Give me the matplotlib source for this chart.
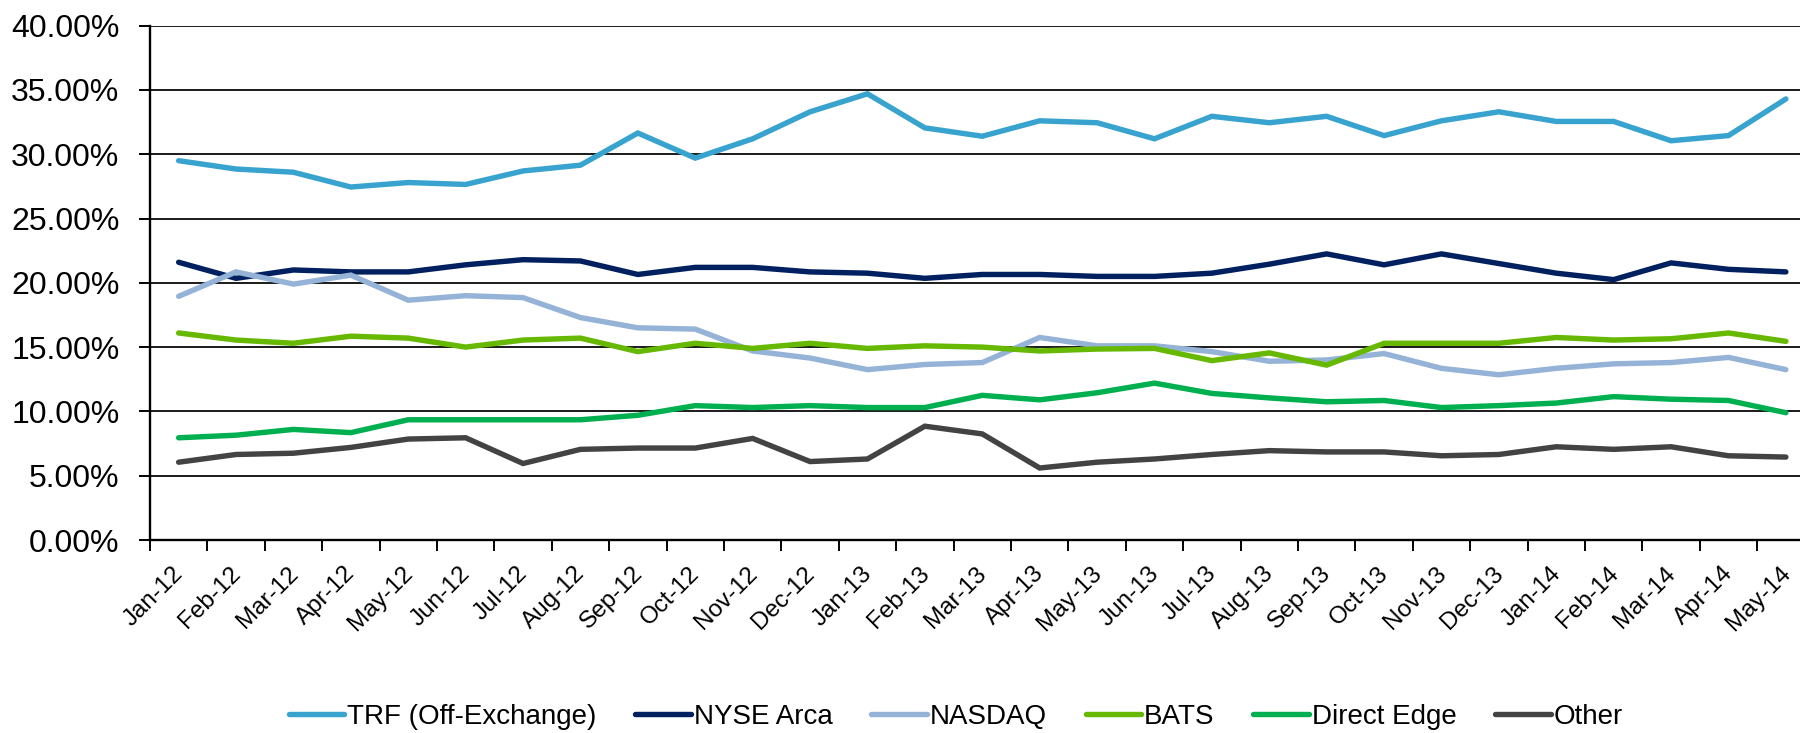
import matplotlib
matplotlib.use("Agg")
import matplotlib.pyplot as plt
from matplotlib.ticker import FuncFormatter, FixedLocator
from matplotlib.transforms import ScaledTranslation
import numpy as np

plt.rcParams['font.family'] = ['Liberation Sans', 'DejaVu Sans']

months = ['Jan-12', 'Feb-12', 'Mar-12', 'Apr-12', 'May-12', 'Jun-12', 'Jul-12',
          'Aug-12', 'Sep-12', 'Oct-12', 'Nov-12', 'Dec-12', 'Jan-13', 'Feb-13',
          'Mar-13', 'Apr-13', 'May-13', 'Jun-13', 'Jul-13', 'Aug-13', 'Sep-13',
          'Oct-13', 'Nov-13', 'Dec-13', 'Jan-14', 'Feb-14', 'Mar-14', 'Apr-14',
          'May-14']

trf = [29.5, 28.85, 28.6, 27.45, 27.8, 27.65, 28.7, 29.15, 31.65, 29.7, 31.2,
       33.3, 34.7, 32.05, 31.4, 32.6, 32.45, 31.2, 32.95, 32.45, 32.95, 31.45,
       32.6, 33.3, 32.55, 32.55, 31.05, 31.45, 34.3]
nyse_arca = [21.6, 20.35, 21.0, 20.85, 20.85, 21.4, 21.8, 21.7, 20.65, 21.2,
             21.2, 20.85, 20.75, 20.35, 20.65, 20.65, 20.5, 20.5, 20.75, 21.45,
             22.25, 21.4, 22.25, 21.5, 20.75, 20.25, 21.55, 21.05, 20.85]
nasdaq = [18.95, 20.85, 19.9, 20.6, 18.65, 19.0, 18.85, 17.3, 16.5, 16.4, 14.7,
          14.15, 13.25, 13.65, 13.8, 15.75, 15.1, 15.1, 14.65, 13.9, 14.0, 14.5,
          13.35, 12.85, 13.35, 13.7, 13.8, 14.2, 13.25]
bats = [16.1, 15.55, 15.3, 15.85, 15.7, 15.0, 15.55, 15.7, 14.65, 15.3, 14.9,
        15.3, 14.9, 15.1, 15.0, 14.7, 14.85, 14.9, 13.95, 14.55, 13.6, 15.3,
        15.3, 15.3, 15.75, 15.55, 15.65, 16.1, 15.45]
direct_edge = [7.95, 8.15, 8.6, 8.35, 9.35, 9.35, 9.35, 9.35, 9.7, 10.45, 10.3,
               10.45, 10.3, 10.3, 11.25, 10.9, 11.45, 12.2, 11.4, 11.05, 10.75,
               10.85, 10.3, 10.45, 10.65, 11.15, 10.95, 10.85, 9.9]
other = [6.05, 6.65, 6.75, 7.2, 7.85, 7.95, 5.95, 7.05, 7.15, 7.15, 7.9, 6.1,
         6.3, 8.85, 8.25, 5.6, 6.05, 6.3, 6.65, 6.95, 6.85, 6.85, 6.55, 6.65,
         7.25, 7.05, 7.25, 6.55, 6.45]

series = [
    ('TRF (Off-Exchange)', trf, '#38A3CF'),
    ('NYSE Arca', nyse_arca, '#002060'),
    ('NASDAQ', nasdaq, '#95B3D7'),
    ('BATS', bats, '#66B800'),
    ('Direct Edge', direct_edge, '#00B050'),
    ('Other', other, '#434343'),
]

fig = plt.figure(figsize=(18, 7.33), dpi=100)
ax = fig.add_axes([0.0833, 0.2633, 0.9248, 0.7017])

x = np.arange(len(months))
for name, vals, col in series:
    ax.plot(x, vals, color=col, lw=3.9, label=name, solid_capstyle='round',
            solid_joinstyle='miter', zorder=3)

ax.set_xlim(-0.5, len(months) - 0.5)
ax.set_ylim(0, 40)
ax.set_yticks(np.arange(0, 41, 5))
ax.yaxis.set_major_formatter(FuncFormatter(lambda v, p: f'{v:.2f}%'))
ax.yaxis.grid(True, color='#1a1a1a', lw=1.4)
ax.set_axisbelow(True)

ax.set_xticks(x)
ax.set_xticklabels(months, rotation=45, ha='right', rotation_mode='anchor',
                   fontsize=17.5)
ax.xaxis.set_minor_locator(FixedLocator(np.arange(-0.5, len(months), 1)))
ax.tick_params(axis='x', which='major', length=0, pad=14)
ax.tick_params(axis='x', which='minor', length=8, width=1.4, direction='out')
ax.tick_params(axis='y', length=8, width=1.4, labelsize=23, pad=14)

for s in ['top', 'right']:
    ax.spines[s].set_visible(False)
for s in ['left', 'bottom']:
    ax.spines[s].set_linewidth(1.7)
    ax.spines[s].set_color('black')

fig.legend(loc='center', bbox_to_anchor=(0.531, 0.022), ncol=6, frameon=False,
           fontsize=20, handlelength=2.0, handletextpad=0.1, columnspacing=1.4)

# line the rotated month labels up the way the original has them:
# label box ends ~9px right of the category centre, top ~23px under the axis
fig.canvas.draw()
rend = fig.canvas.get_renderer()
first = ax.get_xticklabels()[0]
bb = first.get_window_extent(rend)
cx, cy = ax.transData.transform((0, 0))
dx = (cx + 9) - bb.x1
dy = (cy - 22.5) - bb.y1
shift = ScaledTranslation(dx / fig.dpi, dy / fig.dpi, fig.dpi_scale_trans)
for lab in ax.get_xticklabels():
    lab.set_transform(lab.get_transform() + shift)

fig.savefig('out.png', dpi=100)
